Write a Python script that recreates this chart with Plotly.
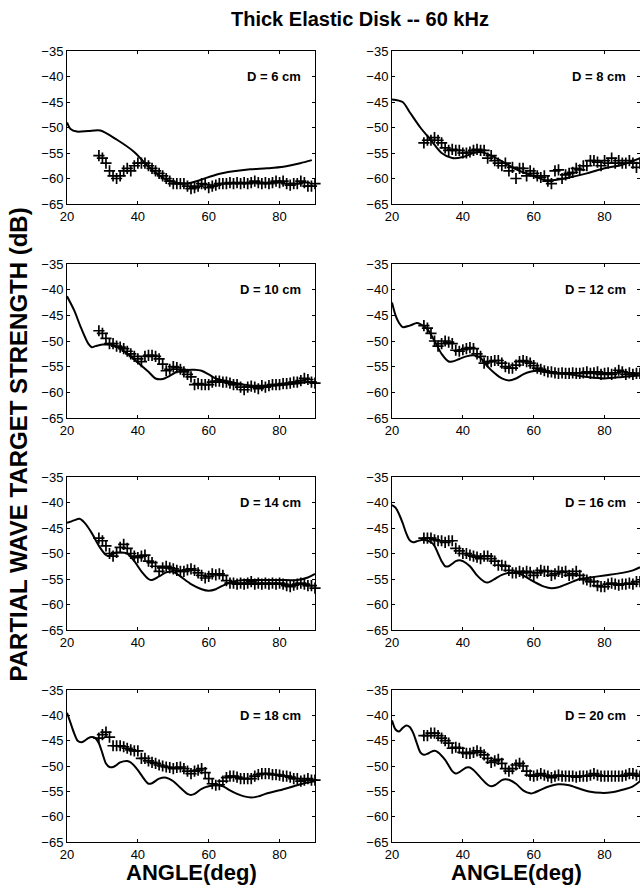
import plotly.graph_objects as go

# ---------------- data ----------------
PANEL_LABELS = ["D = 6 cm", "D = 8 cm", "D = 10 cm", "D = 12 cm",
                "D = 14 cm", "D = 16 cm", "D = 18 cm", "D = 20 cm"]

MEAS_ANGLE = list(range(29, 91))

# theory curves (solid lines)
th6_x = [20, 21, 22.8, 26, 29.4, 34.1, 38.8, 43.5, 48.2, 53.8, 57.6, 62.3, 67, 71.7, 76.4, 81.1, 85.8, 89.1]
th6_y = [-49, -50.3, -50.8, -50.7, -50.6, -52.4, -54.7, -58, -60.3, -61, -60.3, -59.2, -58.6, -58.2, -58, -57.7, -57, -56.4]

th8_x = [20, 23, 25, 28, 31, 34, 37, 40, 43, 45, 48, 52, 56, 60, 63, 66, 70, 75, 80, 85, 90]
th8_y = [-44.5, -45, -47, -50, -52.5, -55, -56, -55.8, -55, -54.8, -55.5, -57, -58.5, -59.5, -60.3, -60.3, -59.8, -59, -58, -57.3, -56]

th10_x = [20, 22, 24, 26, 27, 28, 30, 33, 35, 38, 40, 43, 45, 47, 49, 51, 53, 56, 58, 60, 62, 65, 70, 75, 80, 85, 88, 90]
th10_y = [-41.3, -44, -47.5, -50.5, -51.2, -51, -50.7, -50.8, -51.5, -53, -54.2, -56, -57.3, -57.4, -56.8, -56, -55.7, -55.6, -55.8, -56.5, -57.3, -57.8, -58.5, -58.8, -58.6, -58.3, -58, -58]

th12_x = [20, 21, 22, 23, 25, 27, 28, 30, 32, 34, 36, 37, 39, 41, 43, 45, 47, 49, 51, 53, 55, 57, 59, 61, 63, 66, 70, 75, 80, 85, 88, 90]
th12_y = [-42.5, -45, -46.5, -47.3, -47, -46.5, -46.7, -47.7, -50, -52.5, -54, -54, -53.5, -53, -52.8, -53.3, -55, -56.3, -57.3, -57.7, -57.3, -56.5, -56, -55.8, -56, -56.3, -56.5, -57, -57.3, -57, -56.8, -56.7]

th14_x = [20, 22, 23.5, 25, 27, 29, 31, 32, 33, 35, 37, 39, 41, 43, 44, 46, 48, 50, 52, 55, 58, 60, 62, 64, 67, 70, 75, 80, 85, 88, 90]
th14_y = [-44, -43.5, -43.2, -44, -46, -48.5, -50.3, -50.5, -50, -49.8, -50, -51.5, -53.5, -55, -55.2, -54.5, -53.7, -53.6, -54.5, -56, -57, -57.3, -57, -56.3, -55.5, -55.2, -55.2, -55.2, -55.2, -54.7, -54]

th16_x = [20, 21, 22, 23, 24, 25, 26, 27, 29, 31, 32, 33, 34, 35, 36, 37, 38, 39, 40, 42, 44, 46, 47, 49, 51, 53, 55, 57, 60, 63, 65, 67, 70, 73, 76, 80, 85, 88, 90]
th16_y = [-40.5, -41, -42.3, -44, -46, -47.4, -47.8, -47.6, -47.3, -47.8, -48.5, -50, -51.5, -52.5, -52.5, -52, -51.5, -51.3, -51.5, -52.5, -54.3, -55.5, -55.7, -55, -54.2, -53.8, -53.8, -54.3, -55.5, -56.5, -56.8, -56.6, -55.8, -55, -54.7, -54.3, -53.8, -53.3, -52.7]

th18_x = [20, 21, 22, 23, 24, 25, 26, 27, 28, 29, 30, 31, 32, 33, 34, 35, 37, 38, 40, 42, 43, 44, 46, 48, 50, 52, 54, 55, 56, 58, 60, 62, 64, 66, 68, 70, 72, 74, 76, 80, 84, 87, 90]
th18_y = [-39.5, -41.5, -43.5, -45, -45.3, -45, -44.5, -44.3, -44.5, -45.5, -47.5, -49.5, -50.2, -50.2, -49.8, -49.3, -49, -49.3, -50.8, -52.8, -53.5, -53.4, -52.5, -52.3, -53, -54.3, -55.5, -55.7, -55.5, -54.5, -54, -53.8, -54, -54.8, -55.5, -56, -56.2, -56, -55.5, -54.8, -54, -53.4, -53]

th20_x = [20, 21, 22, 23, 24, 25, 26, 27, 28, 29, 30, 31, 32, 33, 35, 37, 38, 39, 41, 42, 43, 45, 47, 48, 49, 51, 52, 53, 55, 57, 59, 60, 62, 64, 67, 70, 73, 76, 79, 82, 85, 88, 90]
th20_y = [-41, -42.8, -43.2, -42.5, -42, -42.3, -43.5, -45.5, -47.3, -47.8, -47.6, -47.2, -47, -47.3, -48.8, -51, -51.5, -51.2, -50.3, -50.3, -50.8, -52.3, -53.7, -54, -53.8, -52.8, -52.6, -52.7, -53.5, -54.8, -55.4, -55.3, -54.7, -54.1, -53.6, -53.8, -54.5, -55.1, -55.3, -55.2, -54.7, -54, -53]

# measured data (+ markers), angles 29..90 deg
m6 = [-55.5, -56, -57, -58.5, -59.5, -60, -59.5, -58.5, -58, -58.5, -57.5, -57, -57, -57, -57.5, -58,
      -58.5, -59, -59.5, -60, -60.5, -61, -61, -61, -61, -61.5, -62, -61.8, -61.5, -61, -61.2, -61.8,
      -61.5, -61.3, -61, -61, -61, -60.8, -61, -60.8, -61, -60.8, -61, -60.8, -60.5, -60.8, -61, -60.8,
      -61, -60.8, -60.5, -60.8, -60.5, -61, -61.3, -61, -61, -60.5, -60.8, -61.5, -61.5, -61]
m8 = [-53, -52.5, -52.5, -52, -52.5, -53, -54, -54.5, -54.3, -54.5, -54.5, -55, -55, -54.8, -54.5, -54.3,
      -54.5, -54.5, -56, -55.5, -56.5, -57, -57.5, -57, -58.5, -57.8, -60, -58, -58, -59.5, -58.5, -59,
      -59.5, -59.8, -59.5, -60.5, -61, -58.5, -58.3, -60, -59.3, -59, -58.8, -58, -58.3, -57.5, -57.5, -56.5,
      -56.5, -56.8, -57.5, -56.5, -57, -56, -57, -56.5, -57, -57, -56.5, -57, -57.8, -57]
m10 = [-48, -48.5, -49.5, -50.5, -50.5, -51, -51.2, -51.5, -52, -52.5, -53, -53.5, -54, -53, -52.8, -52.8,
       -53, -53.5, -54.5, -55.8, -55.5, -55, -55.2, -55.5, -56, -56.5, -57, -58.5, -58.3, -58.5, -58.5, -58.5,
       -58, -57.8, -57.8, -58, -58, -58.2, -58.5, -58.5, -59, -59.5, -59, -58.8, -59, -59.3, -58.7, -59,
       -58.7, -58.5, -58.5, -58.5, -58.3, -58.3, -58.2, -58, -58, -57.7, -57.3, -57.5, -58, -58.2]
m12 = [-47, -47.5, -48.5, -50, -51, -50.5, -50, -50.2, -50.5, -51.8, -52, -51.7, -51.5, -51.3, -51.5, -52.5,
       -53, -54.3, -54, -54, -53.8, -53.8, -54.3, -55, -55.3, -55.3, -54.7, -54, -53.8, -54, -54.3, -54.8,
       -55.3, -55.5, -55.8, -56, -56, -56.2, -56.3, -56.2, -56.3, -56.3, -56.2, -56.3, -56.3, -56.2, -56, -56.3,
       -56.2, -56, -56.5, -56.3, -56.2, -56.5, -56.2, -55.7, -56, -56.5, -56.2, -56.5, -56.3, -56.3]
m14 = [-47, -47.5, -48.5, -50, -50.5, -49.8, -48.8, -48.2, -49, -50, -50.5, -50.8, -50.5, -50.3, -51.5, -51.8,
       -52.5, -53.5, -52.8, -52.5, -52.8, -53, -53.3, -53.5, -53.5, -53.2, -53, -53.3, -53.8, -54.3, -54.8, -54.5,
       -54, -54.2, -54, -54.3, -55.3, -55.8, -55.8, -56, -55.8, -56, -55.8, -55.5, -56, -55.8, -56, -55.8,
       -56, -55.8, -56, -55.8, -56, -56.3, -56.5, -56.2, -56, -55.8, -56, -56.3, -56.3, -56.8]
m16 = [-47, -47, -47, -47.3, -47.5, -47.5, -47.8, -47.5, -47.5, -49, -49.5, -50, -50, -50.3, -50.5, -50.7,
       -51, -50.5, -50.5, -51, -51.5, -52.3, -52.3, -52.5, -53.3, -53.8, -53.8, -53.5, -53.8, -53.5, -53.7, -54.3,
       -53.8, -53.3, -53.5, -53.5, -54.3, -54, -53.5, -53.7, -53.5, -54.3, -54, -53.5, -54.3, -55, -55.2, -55.5,
       -55.5, -56.3, -56.5, -56.5, -56, -55.8, -56, -56.2, -56, -56, -55.8, -56, -55.5, -55.5]
m18 = [-44.5, -43.8, -43.3, -44.3, -46, -46, -46, -46.2, -46.5, -46.8, -47, -47, -48.5, -48.5, -49, -49.3,
       -49.5, -49.8, -50, -50.2, -50.3, -50.5, -50.3, -50.2, -50.5, -51, -51.5, -51, -50.8, -50.5, -51.3, -52.5,
       -53.5, -53.8, -53.7, -53, -52.3, -52, -52, -52.2, -52.5, -52.5, -52.5, -52.5, -52, -51.7, -51.5, -51.5,
       -51.5, -51.7, -51.7, -51.8, -52, -52, -52.2, -52.5, -52.5, -53, -52.8, -52.5, -52.8, -52.8]
m20 = [-44, -44, -43.5, -43.5, -44, -44.5, -45, -45.5, -46.5, -46.3, -46.5, -47.3, -47.5, -47.5, -47.3, -47,
       -47.3, -47.8, -48.5, -49.3, -49, -48.7, -49.5, -50.5, -51, -50.5, -49.8, -49.5, -50, -51, -51.8, -52,
       -51.8, -51.5, -51.8, -52, -52.3, -52, -51.8, -52, -52, -52, -52, -52.2, -52, -52, -52, -51.8,
       -51.5, -51.8, -52, -52, -52, -52, -52, -52, -52, -51.8, -51.5, -51.5, -51.8, -52]

THEORY_X = [th6_x, th8_x, th10_x, th12_x, th14_x, th16_x, th18_x, th20_x]
THEORY_Y = [th6_y, th8_y, th10_y, th12_y, th14_y, th16_y, th18_y, th20_y]
MEAS = [m6, m8, m10, m12, m14, m16, m18, m20]

X_TICKS = [20, 40, 60, 80]
Y_TICKS = [-65, -60, -55, -50, -45, -40, -35]

# ---------------- layout ----------------
W, H = 640, 888
col_x = [(67, 315), (392, 640)]
row_y = [(51, 204), (264, 418), (477, 630), (690, 842)]

FONT = "Liberation Sans, Arial, sans-serif"
fig = go.Figure()
layout = dict(
    width=W, height=H, autosize=False,
    margin=dict(l=0, r=0, t=0, b=0, pad=0, autoexpand=False),
    paper_bgcolor="white", plot_bgcolor="white", showlegend=False,
    font=dict(family=FONT, color="black", size=13),
)
annotations = []

for i in range(8):
    r, c = divmod(i, 2)
    n = i + 1
    xa = "x" if n == 1 else f"x{n}"
    ya = "y" if n == 1 else f"y{n}"
    xd = [col_x[c][0] / W, min(col_x[c][1] / W, 1.0)]
    yd = [1 - row_y[r][1] / H, 1 - row_y[r][0] / H]

    fig.add_trace(go.Scatter(
        x=THEORY_X[i], y=THEORY_Y[i], mode="lines",
        line=dict(color="black", width=2, shape="spline", smoothing=0.8),
        xaxis=xa, yaxis=ya, hoverinfo="skip"))
    fig.add_trace(go.Scatter(
        x=MEAS_ANGLE, y=MEAS[i], mode="markers",
        marker=dict(symbol="cross-thin", size=8, color="black",
                    line=dict(color="black", width=1.7)),
        xaxis=xa, yaxis=ya, cliponaxis=False, hoverinfo="skip"))

    axis_common = dict(showline=True, linecolor="black", linewidth=1, mirror="ticks",
                       ticks="inside", ticklen=3, tickcolor="black", showgrid=False,
                       zeroline=False, automargin=False, fixedrange=True,
                       tickfont=dict(size=13, family=FONT, color="black"))
    layout["xaxis" if n == 1 else f"xaxis{n}"] = dict(
        domain=xd, range=[20, 90], tickvals=X_TICKS, anchor=ya, **axis_common)
    layout["yaxis" if n == 1 else f"yaxis{n}"] = dict(
        domain=yd, range=[-65, -35], tickvals=Y_TICKS, anchor=xa, **axis_common)

    annotations.append(dict(
        x=86.5, y=-40, xref=xa, yref=ya, text=PANEL_LABELS[i], showarrow=False,
        xanchor="right", yanchor="middle",
        font=dict(family=FONT, size=13, color="black", weight="bold")))

annotations.append(dict(
    x=360 / W, y=1 - 19 / H, xref="paper", yref="paper",
    text="Thick Elastic Disk -- 60 kHz", showarrow=False,
    xanchor="center", yanchor="middle",
    font=dict(family=FONT, size=20, color="black", weight="bold")))
for cx in [191, 516]:
    annotations.append(dict(
        x=cx / W, y=1 - 872 / H, xref="paper", yref="paper",
        text="ANGLE(deg)", showarrow=False, xanchor="center", yanchor="middle",
        font=dict(family=FONT, size=22, color="black", weight="bold")))
annotations.append(dict(
    x=17.5 / W, y=1 - 445 / H, xref="paper", yref="paper",
    text="PARTIAL WAVE TARGET STRENGTH (dB)", showarrow=False, textangle=-90,
    xanchor="center", yanchor="middle",
    font=dict(family=FONT, size=24, color="black", weight="bold")))

layout["annotations"] = annotations
fig.update_layout(**layout)
fig.write_html("out.html",
               config={"displayModeBar": False, "staticPlot": True},
               post_script="document.body.style.margin='0px';document.body.style.padding='0px';")
